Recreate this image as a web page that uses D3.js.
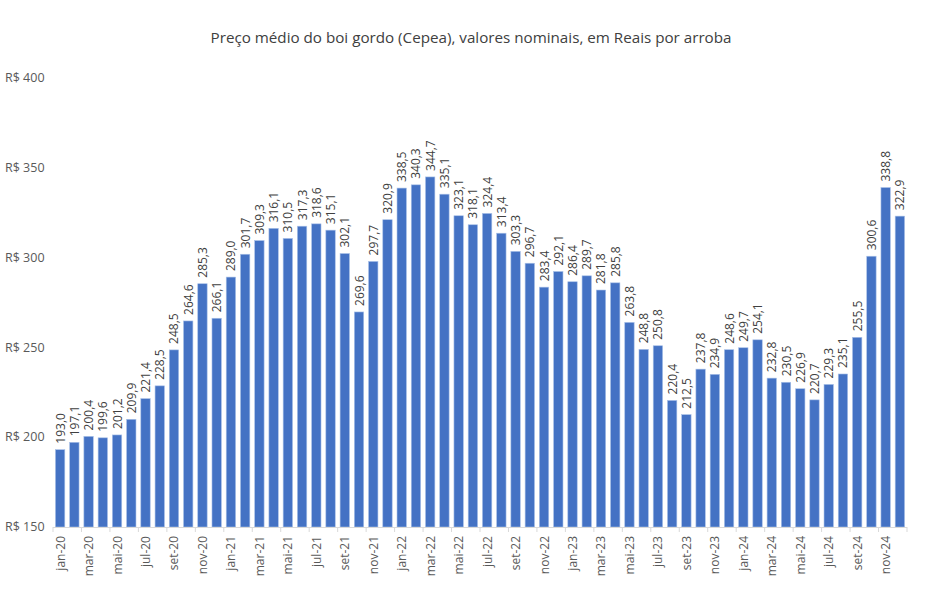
<!DOCTYPE html>
<html><head><meta charset="utf-8">
<script src="https://cdn.jsdelivr.net/npm/d3@7"></script>
<style>
body{margin:0;background:#fff;}
svg{display:block;}
text{font-family:"Open Sans","Noto Sans",sans-serif;}
</style></head>
<body>
<svg id="chart" width="948" height="589"></svg>
<script>
const title = "Preço médio do boi gordo (Cepea), valores nominais, em Reais por arroba";
const monthNames = ["jan","fev","mar","abr","mai","jun","jul","ago","set","out","nov","dez"];
const years = ["20","21","22","23","24"];
const values = [
  193.0,197.1,200.4,199.6,201.2,209.9,221.4,228.5,248.5,264.6,285.3,266.1,
  289.0,301.7,309.3,316.1,310.5,317.3,318.6,315.1,302.1,269.6,297.7,320.9,
  338.5,340.3,344.7,335.1,323.1,318.1,324.4,313.4,303.3,296.7,283.4,292.1,
  286.4,289.7,281.8,285.8,263.8,248.8,250.8,220.4,212.5,237.8,234.9,248.6,
  249.7,254.1,232.8,230.5,226.9,220.7,229.3,235.1,255.5,300.6,338.8,322.9
];
const yTicks = [150,200,250,300,350,400];

const categories = [];
years.forEach(y => monthNames.forEach(m => categories.push(m + "-" + y)));
const data = categories.map((c,i)=>({cat:c, v:values[i]}));

const svg = d3.select("#chart");
const pLeft = 53, pRight = 907, pTop = 77.5, pBottom = 527;

const x = d3.scaleBand().domain(categories).range([pLeft,pRight]).paddingInner(0.34).paddingOuter(0.17);
const y = d3.scaleLinear().domain([150,400]).range([pBottom,pTop]);

svg.append("text").attr("x",471).attr("y",43).attr("text-anchor","middle")
  .attr("font-size",15.2).attr("fill","#404040").text(title);

// y labels
svg.append("g").selectAll("text").data(yTicks).join("text")
  .attr("x",5).attr("y",d=>y(d)).attr("dy","0.35em")
  .attr("font-size",12.5).attr("fill","#595959")
  .text(d=>"R$ " + d);

// bars
svg.append("g").selectAll("rect").data(data).join("rect")
  .attr("x",d=>x(d.cat)).attr("width",x.bandwidth())
  .attr("y",d=>y(d.v)).attr("height",d=>pBottom - y(d.v))
  .attr("fill","#4472C4").attr("stroke","#A9C1E8").attr("stroke-width",0.6);

// value labels
svg.append("g").selectAll("text").data(data).join("text")
  .attr("transform",d=>`translate(${x(d.cat)+x.bandwidth()/2+4.5},${y(d.v)-6}) rotate(-90)`)
  .attr("font-size",12).attr("fill","#404040")
  .text(d=>d.v.toFixed(1).replace(".",","));

// x axis line & ticks
const step = x.step();
const ax = svg.append("g").attr("stroke","#D9D9D9").attr("stroke-width",1);
ax.append("line").attr("x1",pLeft).attr("x2",pRight).attr("y1",pBottom+0.5).attr("y2",pBottom+0.5);
const tickIdx = d3.range(0,61,2);
ax.selectAll("line.t").data(tickIdx).join("line").attr("class","t")
  .attr("x1",i=>pLeft+i*step).attr("x2",i=>pLeft+i*step)
  .attr("y1",pBottom).attr("y2",pBottom+5);

// x labels
svg.append("g").selectAll("text").data(categories.filter((c,i)=>i%2===0)).join("text")
  .attr("transform",c=>`translate(${x(c)+x.bandwidth()/2+4.5},${pBottom+9}) rotate(-90)`)
  .attr("text-anchor","end")
  .attr("font-size",12).attr("fill","#595959")
  .text(c=>c);
</script>
</body></html>
